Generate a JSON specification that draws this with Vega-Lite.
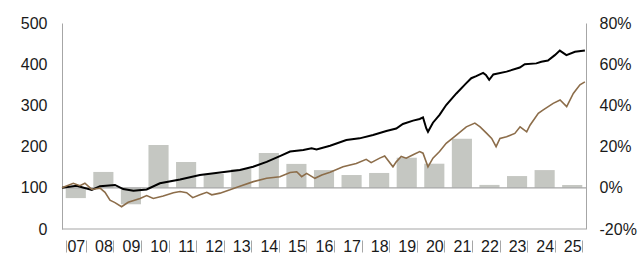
{
  "$schema": "https://vega.github.io/schema/vega-lite/v6.json",
  "width": 524,
  "height": 206,
  "autosize": {"type": "none"},
  "padding": {"left": 62, "top": 23, "right": 57, "bottom": 26},
  "background": "white",
  "config": {
    "view": {"stroke": null},
    "font": "Liberation Sans",
    "axis": {"labelFont": "Liberation Sans", "labelFontSize": 16, "labelColor": "#1a1a1a", "domainColor": "#a6a6a6", "grid": false, "title": null}
  },
  "datasets": {
    "bars": [
      {"yr": "07", "v": -5}, {"yr": "08", "v": 7.7}, {"yr": "09", "v": -8}, {"yr": "10", "v": 20.8},
      {"yr": "11", "v": 12.5}, {"yr": "12", "v": 6.7}, {"yr": "13", "v": 9.1}, {"yr": "14", "v": 16.9},
      {"yr": "15", "v": 11.6}, {"yr": "16", "v": 8.6}, {"yr": "17", "v": 6.2}, {"yr": "18", "v": 7.2},
      {"yr": "19", "v": 14.6}, {"yr": "20", "v": 11.7}, {"yr": "21", "v": 23.8}, {"yr": "22", "v": 1.4},
      {"yr": "23", "v": 5.7}, {"yr": "24", "v": 8.6}, {"yr": "25", "v": 1.4}
    ],
    "lines": [
      {"s": "A", "t": 2007.0, "v": 100}, {"s": "A", "t": 2007.53, "v": 105}, {"s": "A", "t": 2008.08, "v": 95},
      {"s": "A", "t": 2008.38, "v": 104}, {"s": "A", "t": 2008.92, "v": 107}, {"s": "A", "t": 2009.22, "v": 97},
      {"s": "A", "t": 2009.59, "v": 93}, {"s": "A", "t": 2010.07, "v": 96}, {"s": "A", "t": 2010.55, "v": 111},
      {"s": "A", "t": 2011.28, "v": 120}, {"s": "A", "t": 2012.0, "v": 131}, {"s": "A", "t": 2012.73, "v": 137},
      {"s": "A", "t": 2013.45, "v": 143}, {"s": "A", "t": 2013.93, "v": 151}, {"s": "A", "t": 2014.42, "v": 163},
      {"s": "A", "t": 2014.9, "v": 177}, {"s": "A", "t": 2015.27, "v": 188}, {"s": "A", "t": 2015.75, "v": 192},
      {"s": "A", "t": 2016.05, "v": 196}, {"s": "A", "t": 2016.23, "v": 193}, {"s": "A", "t": 2016.72, "v": 202},
      {"s": "A", "t": 2017.31, "v": 216}, {"s": "A", "t": 2017.79, "v": 220}, {"s": "A", "t": 2018.28, "v": 228},
      {"s": "A", "t": 2018.76, "v": 238}, {"s": "A", "t": 2019.12, "v": 244}, {"s": "A", "t": 2019.36, "v": 255},
      {"s": "A", "t": 2019.73, "v": 263}, {"s": "A", "t": 2019.97, "v": 267}, {"s": "A", "t": 2020.09, "v": 271},
      {"s": "A", "t": 2020.21, "v": 244}, {"s": "A", "t": 2020.27, "v": 236}, {"s": "A", "t": 2020.45, "v": 258},
      {"s": "A", "t": 2020.69, "v": 277}, {"s": "A", "t": 2020.93, "v": 301}, {"s": "A", "t": 2021.3, "v": 329},
      {"s": "A", "t": 2021.66, "v": 354}, {"s": "A", "t": 2021.84, "v": 366}, {"s": "A", "t": 2022.02, "v": 371},
      {"s": "A", "t": 2022.27, "v": 379}, {"s": "A", "t": 2022.37, "v": 374}, {"s": "A", "t": 2022.49, "v": 362},
      {"s": "A", "t": 2022.64, "v": 375}, {"s": "A", "t": 2023.12, "v": 382}, {"s": "A", "t": 2023.6, "v": 392},
      {"s": "A", "t": 2023.78, "v": 400}, {"s": "A", "t": 2024.2, "v": 402}, {"s": "A", "t": 2024.38, "v": 406},
      {"s": "A", "t": 2024.62, "v": 409}, {"s": "A", "t": 2024.87, "v": 422}, {"s": "A", "t": 2025.05, "v": 433},
      {"s": "A", "t": 2025.29, "v": 422}, {"s": "A", "t": 2025.6, "v": 430}, {"s": "A", "t": 2025.96, "v": 433},
      {"s": "B", "t": 2007.0, "v": 100}, {"s": "B", "t": 2007.41, "v": 111}, {"s": "B", "t": 2007.65, "v": 105},
      {"s": "B", "t": 2007.83, "v": 111}, {"s": "B", "t": 2008.08, "v": 96}, {"s": "B", "t": 2008.38, "v": 99},
      {"s": "B", "t": 2008.56, "v": 89}, {"s": "B", "t": 2008.74, "v": 70}, {"s": "B", "t": 2008.92, "v": 64},
      {"s": "B", "t": 2009.16, "v": 54}, {"s": "B", "t": 2009.4, "v": 65}, {"s": "B", "t": 2009.83, "v": 74},
      {"s": "B", "t": 2010.07, "v": 81}, {"s": "B", "t": 2010.31, "v": 74}, {"s": "B", "t": 2010.67, "v": 80},
      {"s": "B", "t": 2011.04, "v": 88}, {"s": "B", "t": 2011.28, "v": 91}, {"s": "B", "t": 2011.52, "v": 88},
      {"s": "B", "t": 2011.74, "v": 76}, {"s": "B", "t": 2012.0, "v": 83}, {"s": "B", "t": 2012.25, "v": 89},
      {"s": "B", "t": 2012.43, "v": 83}, {"s": "B", "t": 2012.73, "v": 87}, {"s": "B", "t": 2013.09, "v": 95},
      {"s": "B", "t": 2013.45, "v": 104}, {"s": "B", "t": 2013.94, "v": 115}, {"s": "B", "t": 2014.42, "v": 123},
      {"s": "B", "t": 2014.9, "v": 127}, {"s": "B", "t": 2015.27, "v": 137}, {"s": "B", "t": 2015.51, "v": 139},
      {"s": "B", "t": 2015.69, "v": 127}, {"s": "B", "t": 2015.87, "v": 135}, {"s": "B", "t": 2016.17, "v": 123},
      {"s": "B", "t": 2016.42, "v": 131}, {"s": "B", "t": 2016.72, "v": 138}, {"s": "B", "t": 2017.19, "v": 151},
      {"s": "B", "t": 2017.67, "v": 159}, {"s": "B", "t": 2018.03, "v": 169}, {"s": "B", "t": 2018.21, "v": 161},
      {"s": "B", "t": 2018.52, "v": 172}, {"s": "B", "t": 2018.7, "v": 177}, {"s": "B", "t": 2019.0, "v": 151},
      {"s": "B", "t": 2019.12, "v": 163}, {"s": "B", "t": 2019.3, "v": 176}, {"s": "B", "t": 2019.48, "v": 172},
      {"s": "B", "t": 2019.73, "v": 180}, {"s": "B", "t": 2019.97, "v": 188}, {"s": "B", "t": 2020.09, "v": 184},
      {"s": "B", "t": 2020.27, "v": 151}, {"s": "B", "t": 2020.45, "v": 172}, {"s": "B", "t": 2020.69, "v": 188},
      {"s": "B", "t": 2020.93, "v": 208}, {"s": "B", "t": 2021.3, "v": 228}, {"s": "B", "t": 2021.66, "v": 248},
      {"s": "B", "t": 2021.97, "v": 257}, {"s": "B", "t": 2022.16, "v": 248}, {"s": "B", "t": 2022.4, "v": 232},
      {"s": "B", "t": 2022.58, "v": 220}, {"s": "B", "t": 2022.74, "v": 200}, {"s": "B", "t": 2022.88, "v": 220},
      {"s": "B", "t": 2023.12, "v": 224}, {"s": "B", "t": 2023.42, "v": 232}, {"s": "B", "t": 2023.61, "v": 248},
      {"s": "B", "t": 2023.85, "v": 236}, {"s": "B", "t": 2023.97, "v": 252}, {"s": "B", "t": 2024.27, "v": 281},
      {"s": "B", "t": 2024.45, "v": 289}, {"s": "B", "t": 2024.81, "v": 305}, {"s": "B", "t": 2025.06, "v": 313},
      {"s": "B", "t": 2025.3, "v": 297}, {"s": "B", "t": 2025.54, "v": 329}, {"s": "B", "t": 2025.78, "v": 350},
      {"s": "B", "t": 2025.96, "v": 357}
    ],
    "refs": [{"v": 0}, {"v": 100}]
  },
  "layer": [
    {
      "data": {"name": "bars"},
      "mark": {"type": "bar", "color": "#c5c7c2"},
      "encoding": {
        "x": {
          "field": "yr", "type": "nominal", "sort": null,
          "scale": {"paddingInner": 0.27, "paddingOuter": 0.135},
          "axis": {"orient": "bottom", "domain": false, "offset": 11, "ticks": true, "tickBand": "extent", "tickSize": 12, "tickColor": "#a6a6a6", "tickWidth": 1, "labelPadding": -6, "labelAngle": 0, "labelBaseline": "middle", "labelFlush": false}
        },
        "y": {
          "field": "v", "type": "quantitative",
          "scale": {"domain": [-20, 80], "nice": false, "zero": false},
          "axis": {"orient": "right", "values": [-20, 0, 20, 40, 60, 80], "labelExpr": "datum.value + '%'", "ticks": false, "labelPadding": 13, "domainColor": "#a6a6a6"}
        },
        "y2": {"datum": 0}
      }
    },
    {
      "layer": [
        {
          "data": {"name": "refs"},
          "mark": {"type": "rule", "color": "#a6a6a6", "strokeWidth": 1.2},
          "encoding": {
            "y": {
              "field": "v", "type": "quantitative",
              "scale": {"domain": [0, 500], "nice": false},
              "axis": {"orient": "left", "values": [0, 100, 200, 300, 400, 500], "ticks": false, "labelPadding": 15, "domainColor": "#a6a6a6"}
            }
          }
        },
        {
          "data": {"name": "lines"},
          "mark": {"type": "line", "interpolate": "linear"},
          "encoding": {
            "x": {"field": "t", "type": "quantitative", "scale": {"domain": [2007, 2026], "nice": false, "zero": false}, "axis": null},
            "y": {"field": "v", "type": "quantitative"},
            "color": {"field": "s", "type": "nominal", "scale": {"domain": ["A", "B"], "range": ["#000000", "#8c6d4a"]}, "legend": null},
            "strokeWidth": {"field": "s", "type": "nominal", "scale": {"domain": ["A", "B"], "range": [2, 1.6]}, "legend": null}
          }
        }
      ]
    }
  ],
  "resolve": {"scale": {"x": "independent", "y": "independent"}}
}
